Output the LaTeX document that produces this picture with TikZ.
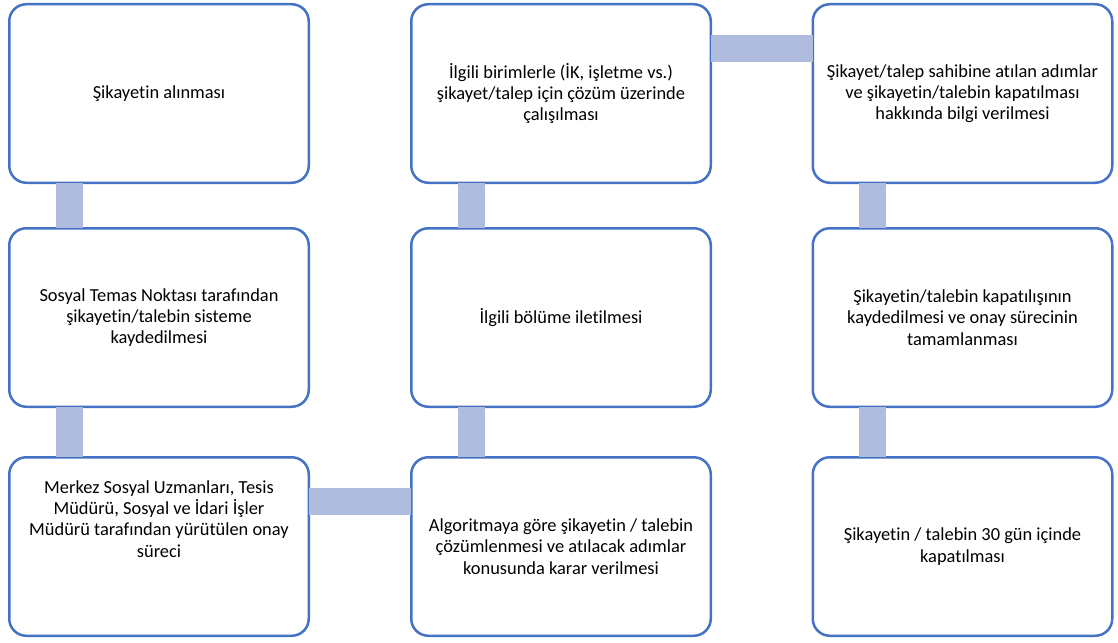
\documentclass[tikz,border=0pt]{standalone}
\usepackage{fontspec}
\setmainfont{Carlito}[Ligatures=NoCommon]
\definecolor{boxblue}{RGB}{68,114,196}
\definecolor{barblue}{RGB}{176,188,222}
\tikzset{
  stepbox/.style={draw=boxblue, line width=2.5pt, fill=white, rounded corners=17pt,
    minimum width=299.5pt, minimum height=178.5pt, inner sep=0pt, outer sep=0pt,
    align=center, font=\fontsize{18.4}{21.3}\selectfont, text=black},
  steptext/.style={align=center, font=\fontsize{18.4}{21.3}\selectfont, text=black, inner sep=0pt},
  bar/.style={draw=barblue, line width=27pt}
}
\begin{document}
\begin{tikzpicture}[x=1pt,y=1pt]
\useasboundingbox (0,0) rectangle (1118,-642);
% boxes
\node[stepbox] (A) at (159,-93.5) {Şikayetin alınması};
\node[stepbox] (B) at (159,-317.5) {Sosyal Temas Noktası tarafından\\şikayetin/talebin sisteme\\kaydedilmesi};
\node[stepbox] (C) at (159,-546.5) {};
\node[stepbox] (D) at (561,-546.5) {Algoritmaya göre şikayetin / talebin\\çözümlenmesi ve atılacak adımlar\\konusunda karar verilmesi};
\node[stepbox] (E) at (561,-317.5) {İlgili bölüme iletilmesi};
\node[stepbox] (F) at (561,-93.5) {İlgili birimlerle (İK, işletme vs.)\\şikayet/talep için çözüm üzerinde\\çalışılması};
\node[stepbox] (G) at (962.5,-93.5) {Şikayet/talep sahibine atılan adımlar\\ve şikayetin/talebin kapatılması\\hakkında bilgi verilmesi};
\node[stepbox] (H) at (962.5,-317.5) {Şikayetin/talebin kapatılışının\\kaydedilmesi ve onay sürecinin\\tamamlanması};
\node[stepbox] (I) at (962.5,-546.5) {Şikayetin / talebin 30 gün içinde\\kapatılması};
\node[steptext] (Ct) at (159,-519) {Merkez Sosyal Uzmanları, Tesis\\Müdürü, Sosyal ve İdari İşler\\Müdürü tarafından yürütülen onay\\süreci};
% connectors
\draw[bar] ([xshift=60pt]A.south west) -- ([xshift=60pt]B.north west);
\draw[bar] ([xshift=60pt]B.south west) -- ([xshift=60pt]C.north west);
\draw[bar] ([yshift=-44pt]C.north east) -- ([yshift=-44pt]D.north west);
\draw[bar] ([xshift=60pt]D.north west) -- ([xshift=60pt]E.south west);
\draw[bar] ([xshift=60pt]E.north west) -- ([xshift=60pt]F.south west);
\draw[bar] ([yshift=-44pt]F.north east) -- ([yshift=-44pt]G.north west);
\draw[bar] ([xshift=60pt]G.south west) -- ([xshift=60pt]H.north west);
\draw[bar] ([xshift=60pt]H.south west) -- ([xshift=60pt]I.north west);
\end{tikzpicture}
\end{document}
